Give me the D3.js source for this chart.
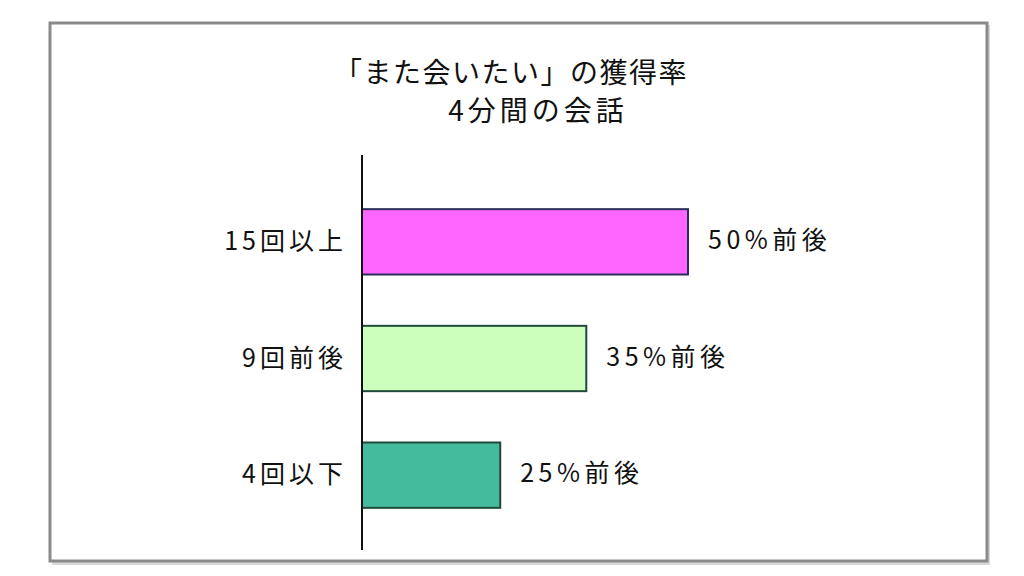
<!DOCTYPE html>
<html>
<head>
<meta charset="utf-8">
<script src="https://cdn.jsdelivr.net/npm/d3@7"></script>
<style>
	body { margin: 0; background: #fff; }
	text { font-family: "Noto Sans CJK JP", sans-serif; fill: #111; }
</style>
</head>
<body>
<svg></svg>
<script>
var categories = ["15回以上", "9回前後", "4回以下"];
var values = [50, 34.4, 21.2];
var valueLabels = ["50%前後", "35%前後", "25%前後"];
var titleLines = ["「また会いたい」の獲得率", "4分間の会話"];
var fills = ["#ff66ff", "#ccffbb", "#44bb9c"];
var strokes = ["#2d2d5a", "#1f4a3a", "#1f4a3a"];

var width = 1024,
	height = 576;

var svg = d3.select("svg")
	.attr("width", width)
	.attr("height", height);

// frame with soft shadow
svg.append("rect")
	.attr("x", 52).attr("y", 25)
	.attr("width", 938).attr("height", 540)
	.attr("fill", "#d8d8d8");
svg.append("rect")
	.attr("x", 50).attr("y", 23)
	.attr("width", 937).attr("height", 538)
	.attr("fill", "#fff")
	.attr("stroke", "#8a8a8a")
	.attr("stroke-width", 3);

// title
svg.selectAll(".title")
	.data(titleLines)
	.enter().append("text")
	.attr("class", "title")
	.attr("x", function(d, i){ return i == 0 ? 511 : 538; })
	.attr("y", function(d, i){ return 83 + i * 38; })
	.attr("text-anchor", "middle")
	.attr("font-size", 28)
	.attr("letter-spacing", function(d, i){ return i == 0 ? 1.5 : 4; })
	.text(function(d){ return d; });

var x = d3.scaleLinear()
	.domain([0, 50])
	.range([362, 688]);

var y = d3.scaleBand()
	.domain(categories)
	.range([180, 537])
	.paddingInner(0.44)
	.paddingOuter(0.25);

svg.selectAll(".bar")
	.data(values)
	.enter().append("rect")
	.attr("class", "bar")
	.attr("x", x(0))
	.attr("y", function(d, i){ return y(categories[i]); })
	.attr("width", function(d){ return x(d) - x(0); })
	.attr("height", y.bandwidth())
	.attr("fill", function(d, i){ return fills[i]; })
	.attr("stroke", function(d, i){ return strokes[i]; })
	.attr("stroke-width", 2);

// vertical axis line
svg.append("line")
	.attr("x1", x(0)).attr("x2", x(0))
	.attr("y1", 155).attr("y2", 550)
	.attr("stroke", "#111")
	.attr("stroke-width", 2);

svg.selectAll(".cat")
	.data(categories)
	.enter().append("text")
	.attr("class", "cat")
	.attr("x", 347)
	.attr("y", function(d){ return y(d) + y.bandwidth() / 2 - 1; })
	.attr("dy", "0.36em")
	.attr("text-anchor", "end")
	.attr("font-size", 25)
	.attr("letter-spacing", 4)
	.text(function(d){ return d; });

svg.selectAll(".val")
	.data(values)
	.enter().append("text")
	.attr("class", "val")
	.attr("x", function(d){ return x(d) + 20; })
	.attr("y", function(d, i){ return y(categories[i]) + y.bandwidth() / 2 - 2; })
	.attr("dy", "0.36em")
	.attr("font-size", 25)
	.attr("letter-spacing", 4.5)
	.text(function(d, i){ return valueLabels[i]; });
</script>
</body>
</html>
